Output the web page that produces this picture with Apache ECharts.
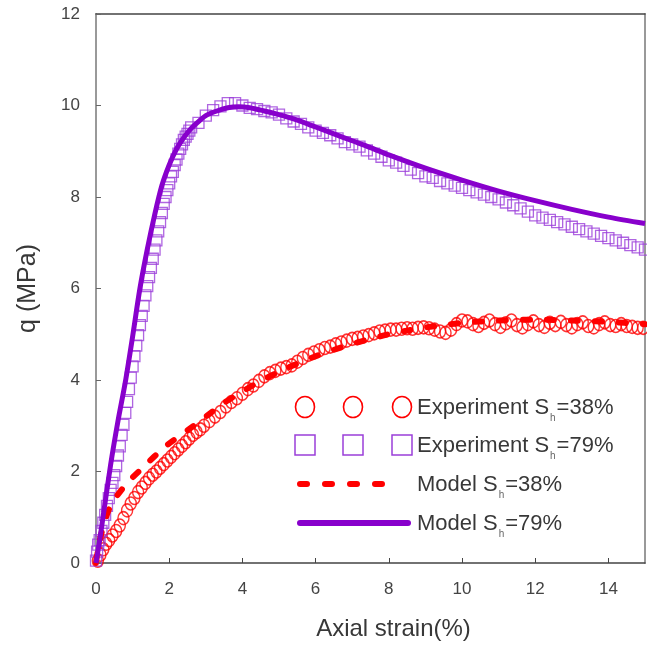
<!DOCTYPE html>
<html>
<head>
<meta charset="utf-8">
<script src="https://cdn.jsdelivr.net/npm/echarts@6/dist/echarts.min.js"></script>
<style>
html,body{margin:0;padding:0;background:#fff;}
#chart{width:647px;height:650px;}
</style>
</head>
<body>
<div id="chart"></div>
<script>
// Experiment Sh=38% (red circles): [axial strain %, q MPa]
var exp38 = [[0.05,0.05],[0.12,0.18],[0.2,0.3],[0.28,0.42],[0.36,0.5],[0.45,0.6],[0.55,0.7],[0.65,0.82],[0.75,0.98],[0.85,1.15],[0.95,1.3],[1.05,1.42],[1.15,1.55],[1.25,1.65],[1.35,1.75],[1.45,1.85],[1.55,1.93],[1.65,2.0],[1.75,2.08],[1.85,2.16],[1.95,2.24],[2.05,2.32],[2.15,2.4],[2.25,2.48],[2.35,2.56],[2.45,2.64],[2.55,2.72],[2.65,2.8],[2.75,2.86],[2.85,2.92],[2.95,3.0],[3.1,3.1],[3.25,3.2],[3.4,3.3],[3.55,3.42],[3.7,3.52],[3.85,3.6],[4.0,3.7],[4.15,3.8],[4.3,3.88],[4.45,3.98],[4.6,4.08],[4.75,4.15],[4.9,4.2],[5.05,4.25],[5.2,4.28],[5.35,4.32],[5.5,4.4],[5.65,4.48],[5.8,4.55],[5.95,4.6],[6.1,4.65],[6.25,4.7],[6.4,4.73],[6.55,4.78],[6.7,4.82],[6.85,4.86],[7.0,4.9],[7.15,4.92],[7.3,4.95],[7.45,4.98],[7.6,5.02],[7.75,5.06],[7.9,5.08],[8.05,5.1],[8.2,5.1],[8.35,5.12],[8.5,5.13],[8.65,5.12],[8.8,5.14],[8.95,5.15],[9.1,5.13],[9.25,5.1],[9.4,5.06],[9.55,5.03],[9.7,5.1],[9.85,5.22],[10.0,5.3],[10.15,5.28],[10.3,5.22],[10.45,5.18],[10.6,5.25],[10.75,5.3],[10.9,5.22],[11.05,5.16],[11.2,5.24],[11.35,5.3],[11.5,5.2],[11.65,5.15],[11.8,5.22],[11.95,5.28],[12.1,5.2],[12.25,5.16],[12.4,5.25],[12.55,5.2],[12.7,5.27],[12.85,5.2],[13.0,5.15],[13.15,5.22],[13.3,5.26],[13.45,5.18],[13.6,5.15],[13.75,5.22],[13.9,5.26],[14.05,5.2],[14.2,5.18],[14.35,5.22],[14.5,5.18],[14.65,5.16],[14.8,5.14],[14.95,5.14]];

// Experiment Sh=79% (purple squares)
var exp79 = [[0,0.05],[0.03,0.25],[0.06,0.4],[0.1,0.5],[0.15,0.7],[0.2,0.88],[0.25,1.05],[0.3,1.25],[0.35,1.42],[0.4,1.6],[0.45,1.75],[0.5,1.92],[0.55,2.12],[0.6,2.35],[0.65,2.55],[0.7,2.8],[0.75,3.02],[0.8,3.28],[0.85,3.52],[0.9,3.8],[0.95,4.05],[1.0,4.3],[1.05,4.52],[1.1,4.75],[1.15,4.98],[1.2,5.2],[1.25,5.4],[1.3,5.62],[1.35,5.85],[1.4,6.05],[1.45,6.25],[1.5,6.45],[1.55,6.65],[1.6,6.85],[1.65,7.05],[1.7,7.25],[1.75,7.45],[1.8,7.65],[1.85,7.85],[1.9,8.0],[1.95,8.15],[2.0,8.3],[2.05,8.45],[2.1,8.55],[2.15,8.7],[2.2,8.82],[2.25,8.95],[2.3,9.05],[2.35,9.15],[2.4,9.25],[2.45,9.32],[2.5,9.38],[2.55,9.45],[2.6,9.52],[2.8,9.62],[3.0,9.78],[3.2,9.9],[3.4,9.98],[3.6,10.05],[3.8,10.05],[4.0,10.0],[4.2,9.95],[4.4,9.92],[4.6,9.88],[4.8,9.85],[5.0,9.8],[5.2,9.72],[5.4,9.65],[5.6,9.6],[5.8,9.52],[6.0,9.45],[6.2,9.4],[6.4,9.35],[6.6,9.28],[6.8,9.2],[7.0,9.15],[7.2,9.1],[7.4,9.02],[7.6,8.95],[7.8,8.88],[8.0,8.8],[8.2,8.75],[8.4,8.68],[8.6,8.6],[8.8,8.52],[9.0,8.45],[9.2,8.42],[9.4,8.35],[9.6,8.3],[9.8,8.25],[10.0,8.2],[10.2,8.15],[10.4,8.1],[10.6,8.05],[10.8,8.0],[11.0,7.95],[11.2,7.88],[11.4,7.82],[11.6,7.75],[11.8,7.68],[12.0,7.6],[12.2,7.55],[12.4,7.5],[12.6,7.45],[12.8,7.4],[13.0,7.35],[13.2,7.3],[13.4,7.25],[13.6,7.2],[13.8,7.15],[14.0,7.1],[14.2,7.05],[14.4,7.0],[14.6,6.95],[14.8,6.9],[15.0,6.85]];

// Model Sh=38% (red dashed)
var model38 = [[0,0],[0.05,0.3],[0.2,0.8],[0.4,1.25],[0.8,1.7],[1.3,2.1],[1.9,2.55],[2.5,2.9],[3,3.2],[3.5,3.5],[4,3.75],[4.5,3.98],[5,4.18],[5.5,4.36],[6,4.52],[6.5,4.66],[7,4.79],[7.5,4.9],[8,5.0],[8.5,5.08],[9,5.15],[9.5,5.2],[10,5.25],[11,5.3],[12,5.32],[13,5.3],[14,5.27],[15,5.22]];

// Model Sh=79% (purple solid)
var model79 = [[0,0],[0.1,0.5],[0.2,1.05],[0.4,2.15],[0.6,3.1],[0.8,3.95],[1.0,4.95],[1.2,6.0],[1.4,6.85],[1.6,7.6],[1.8,8.25],[2.0,8.7],[2.2,9.05],[2.4,9.3],[2.6,9.5],[2.8,9.65],[3.0,9.78],[3.3,9.88],[3.6,9.95],[3.9,9.97],[4.2,9.95],[4.6,9.88],[5,9.8],[5.5,9.68],[6,9.53],[6.5,9.38],[7,9.23],[7.5,9.08],[8,8.92],[9,8.63],[10,8.37],[11,8.13],[12,7.92],[13,7.73],[14,7.56],[15,7.42]];

var legendLabels = [
  ['Experiment S', 'h', '=38%'],
  ['Experiment S', 'h', '=79%'],
  ['Model S', 'h', '=38%'],
  ['Model S', 'h', '=79%']
];

var RED = '#ff0000';
var PURPLE = '#8800cc';
var SQ = '#9b3fd9';
var FONT = '"Liberation Sans", Arial, sans-serif';

var chart = echarts.init(document.getElementById('chart'));

var legendRowsY = [407, 445, 484, 523];
var markerX = [305, 353, 402];
var textX = 417;
var graphics = [];
markerX.forEach(function (x) {
  graphics.push({type: 'ellipse', shape: {cx: x, cy: legendRowsY[0], rx: 9.5, ry: 10.5},
    style: {fill: 'none', stroke: RED, lineWidth: 1.6}, z: 100});
  graphics.push({type: 'rect', shape: {x: x - 10, y: legendRowsY[1] - 10, width: 20, height: 20},
    style: {fill: 'none', stroke: SQ, lineWidth: 1.5}, z: 100});
});
graphics.push({type: 'line', shape: {x1: 300, y1: legendRowsY[2], x2: 390, y2: legendRowsY[2]},
  style: {stroke: RED, lineWidth: 6, lineDash: [7, 18], lineCap: 'round'}, z: 100});
graphics.push({type: 'line', shape: {x1: 300, y1: legendRowsY[3], x2: 408, y2: legendRowsY[3]},
  style: {stroke: PURPLE, lineWidth: 6, lineCap: 'round'}, z: 100});
legendLabels.forEach(function (lab, i) {
  graphics.push({type: 'text', x: textX, y: legendRowsY[i] - 1, z: 100,
    style: {
      text: '{a|' + lab[0] + '}{s|' + lab[1] + '}{a|' + lab[2] + '}',
      verticalAlign: 'middle', align: 'left',
      rich: {
        a: {fontSize: 22, fontFamily: FONT, fill: '#383838', color: '#383838', lineHeight: 26, verticalAlign: 'bottom'},
        s: {fontSize: 10, fontFamily: FONT, fill: '#666', color: '#666', lineHeight: 14, verticalAlign: 'bottom', padding: [0, 1, -4, 1]}
      }
    }});
});

var option = {
  backgroundColor: '#fff',
  animation: false,
  grid: {left: 96, right: 2, top: 14, bottom: 87, containLabel: false},
  xAxis: [{
    type: 'value', min: 0, max: 15, interval: 2, position: 'bottom',
    name: 'Axial strain(%)', nameLocation: 'middle', nameGap: 54,
    nameTextStyle: {fontSize: 24, fontFamily: FONT, color: '#383838', padding: [0, 0, 0, 46]},
    axisLine: {show: true, onZero: false, lineStyle: {color: '#444', width: 1.5}},
    axisTick: {show: true, inside: true, length: 5, lineStyle: {color: '#444'}},
    axisLabel: {fontSize: 17, fontFamily: FONT, color: '#444', margin: 18, showMaxLabel: false},
    splitLine: {show: false}
  }, {
    type: 'value', min: 0, max: 15, position: 'top',
    axisLine: {show: true, onZero: false, lineStyle: {color: '#444', width: 1.5}},
    axisTick: {show: false}, axisLabel: {show: false}, splitLine: {show: false}
  }],
  yAxis: [{
    type: 'value', min: 0, max: 12, interval: 2, position: 'left',
    name: 'q (MPa)', nameLocation: 'middle', nameGap: 55,
    nameTextStyle: {fontSize: 25, fontFamily: FONT, color: '#383838'},
    axisLine: {show: true, onZero: false, lineStyle: {color: '#999', width: 2}},
    axisTick: {show: true, inside: true, length: 5, lineStyle: {color: '#666'}},
    axisLabel: {fontSize: 17, fontFamily: FONT, color: '#444', margin: 16},
    splitLine: {show: false}
  }, {
    type: 'value', min: 0, max: 12, position: 'right',
    axisLine: {show: true, onZero: false, lineStyle: {color: '#999', width: 2}},
    axisTick: {show: false}, axisLabel: {show: false}, splitLine: {show: false}
  }],
  series: [{
    name: 'Experiment Sh=38%', type: 'scatter', data: exp38,
    symbol: 'circle', symbolSize: [11, 13],
    itemStyle: {color: 'rgba(255,255,255,0)', borderColor: RED, borderWidth: 1.5}
  }, {
    name: 'Experiment Sh=79%', type: 'scatter', data: exp79,
    symbol: 'rect', symbolSize: 11,
    itemStyle: {color: 'rgba(255,255,255,0)', borderColor: SQ, borderWidth: 1.3}
  }, {
    name: 'Model Sh=38%', type: 'line', data: model38, smooth: 0.3,
    showSymbol: false, symbol: 'none',
    lineStyle: {color: RED, width: 6, type: [7, 17], cap: 'round'}
  }, {
    name: 'Model Sh=79%', type: 'line', data: model79, smooth: 0.3,
    showSymbol: false, symbol: 'none',
    lineStyle: {color: PURPLE, width: 5}
  }],
  graphic: graphics
};
chart.setOption(option);
</script>
</body>
</html>
